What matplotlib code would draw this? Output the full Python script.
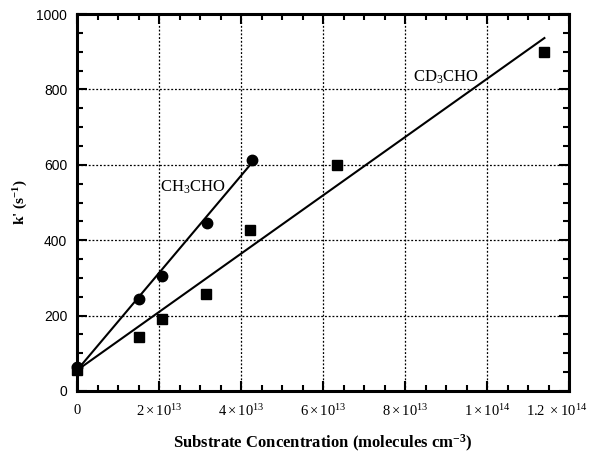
import matplotlib
matplotlib.use("Agg")
import matplotlib.pyplot as plt
import matplotlib.transforms as mtransforms
import numpy as np
from matplotlib.ticker import MultipleLocator, FixedLocator

plt.rcParams['mathtext.fontset'] = 'custom'
plt.rcParams['mathtext.rm'] = 'Liberation Serif'
plt.rcParams['mathtext.it'] = 'Liberation Serif:italic'
plt.rcParams['mathtext.bf'] = 'Liberation Serif:bold'

# --- data ---
ch3_x = [0.0, 1.5e13, 2.07e13, 3.17e13, 4.26e13]
ch3_y = [64, 245, 304, 445, 613]
cd3_x = [0.0, 1.5e13, 2.07e13, 3.14e13, 4.22e13, 6.34e13, 1.14e14]
cd3_y = [57, 144, 192, 256, 427, 600, 899]

# fitted lines: (x start, x end, intercept, slope)
ch3_fit = [0.0, 4.25e13, 55.0, 1.29e-11]
cd3_fit = [0.0, 1.14e14, 55.0, 7.73e-12]

xticks = [0, 2e13, 4e13, 6e13, 8e13, 1e14, 1.2e14]
xticklabels = ['0', r'$\mathrm{2\times10^{13}}$', r'$\mathrm{4\times10^{13}}$',
               r'$\mathrm{6\times10^{13}}$', r'$\mathrm{8\times10^{13}}$',
               r'$\mathrm{1\times10^{14}}$', r'$\mathrm{1.2\ \times10^{14}}$']
yticks = [0, 200, 400, 600, 800, 1000]

serif = 'Liberation Serif'
sans = 'Liberation Sans'

fig = plt.figure(figsize=(5.92, 4.54), dpi=100)
ax = fig.add_axes([77/592, 63/454, 492/592, 377/454])

for fit in (ch3_fit, cd3_fit):
    xs = np.array([fit[0], fit[1]])
    ax.plot(xs, fit[2] + fit[3]*xs, color='black', lw=1.5, zorder=3)

ax.plot(ch3_x, ch3_y, 'o', color='black', ms=7.5, zorder=4, clip_on=False)
ax.plot(cd3_x, cd3_y, 's', color='black', ms=7, zorder=4, clip_on=False)

ax.set_xlim(0, 1.2e14)
ax.set_ylim(0, 1000)
ax.xaxis.set_major_locator(FixedLocator(xticks))
ax.set_xticklabels(xticklabels, fontfamily=serif, fontsize=10.5)
ax.xaxis.set_minor_locator(MultipleLocator(0.5e13))
ax.set_yticks(yticks)
ax.set_yticklabels([str(v) for v in yticks], fontfamily=sans, fontsize=10)
ax.yaxis.set_minor_locator(MultipleLocator(50))

ax.tick_params(which='both', direction='in', top=True, right=True, width=1.5)
ax.tick_params(which='major', length=7)
ax.tick_params(which='minor', length=4.5)
ax.tick_params(axis='x', which='major', pad=9)
ax.tick_params(axis='y', which='major', pad=7)

# last x tick label sits a bit left of its tick in the reference
lbl = ax.get_xticklabels()[-1]
lbl.set_transform(lbl.get_transform() +
                  mtransforms.ScaledTranslation(-12/100, 0, fig.dpi_scale_trans))

for s in ax.spines.values():
    s.set_linewidth(2.2)

ax.grid(True, which='major', linestyle=(0, (1.5, 1.5)), color='black', lw=0.9)
ax.set_axisbelow(True)

ax.text(0.236, 0.541, r'CH$_\mathrm{3}$CHO', transform=ax.transAxes,
        fontfamily=serif, fontsize=12, ha='center', va='center')
ax.text(0.75, 0.833, r'CD$_\mathrm{3}$CHO', transform=ax.transAxes,
        fontfamily=serif, fontsize=12, ha='center', va='center')

ax.set_xlabel(r'Substrate Concentration (molecules cm$^{\mathbf{-3}}$)',
              fontfamily=serif, fontweight='bold', fontsize=12)
ax.xaxis.label.set_va('center')
ax.xaxis.set_label_coords(0.5, -52/377)
ax.set_ylabel(r"k' (s$^{\mathbf{-1}}$)", fontfamily=serif, fontweight='bold',
              fontsize=11)
ax.yaxis.set_label_coords(-56/492, 0.5)
ax.yaxis.label.set_va('center')

fig.savefig('out.png', dpi=100)
